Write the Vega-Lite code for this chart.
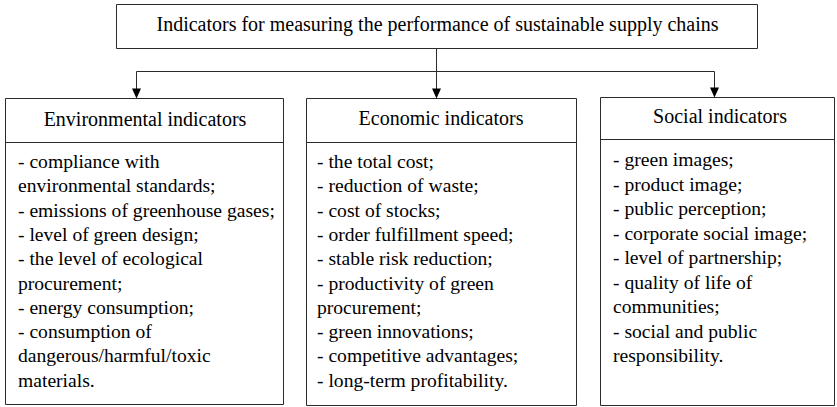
{
  "$schema": "https://vega.github.io/schema/vega-lite/v6.json",
  "width": 837,
  "height": 407,
  "padding": 0,
  "autosize": {"type": "fit", "contains": "padding"},
  "background": "white",
  "config": {"view": {"stroke": null}},
  "datasets": {
    "boxes": [
      {"box": "title", "left": 116.5, "right": 757.5, "top": 4.5, "bottom": 48.5},
      {"box": "environmental", "left": 5.5, "right": 283.5, "top": 98.5, "bottom": 404.5},
      {"box": "economic", "left": 306.5, "right": 576.5, "top": 98.5, "bottom": 405.5},
      {"box": "social", "left": 600.5, "right": 834.5, "top": 97.5, "bottom": 405.5}
    ],
    "lines": [
      {"part": "stem", "xa": 436.5, "ya": 48.5, "xb": 436.5, "yb": 71.5},
      {"part": "bar", "xa": 136.5, "ya": 71.5, "xb": 714.5, "yb": 71.5},
      {"part": "drop env", "xa": 136.5, "ya": 71.5, "xb": 136.5, "yb": 90},
      {"part": "drop eco", "xa": 436.5, "ya": 71.5, "xb": 436.5, "yb": 90},
      {"part": "drop soc", "xa": 714.5, "ya": 71.5, "xb": 714.5, "yb": 89},
      {"part": "sep env", "xa": 5.5, "ya": 142.5, "xb": 283.5, "yb": 142.5},
      {"part": "sep eco", "xa": 306.5, "ya": 142.5, "xb": 576.5, "yb": 142.5},
      {"part": "sep soc", "xa": 600.5, "ya": 139.5, "xb": 834.5, "yb": 139.5}
    ],
    "arrows": [
      {"target": "environmental", "xa": 136.5, "ya": 93.5},
      {"target": "economic", "xa": 436.5, "ya": 93.5},
      {"target": "social", "xa": 714.5, "ya": 92.5}
    ],
    "labels": [
      {"role": "title", "xa": 437.5, "ya": 31, "label": "Indicators for measuring the performance of sustainable supply chains"},
      {"role": "header", "xa": 145, "ya": 125.5, "label": "Environmental indicators"},
      {"role": "header", "xa": 441, "ya": 124.5, "label": "Economic indicators"},
      {"role": "header", "xa": 720, "ya": 123, "label": "Social indicators"},
      {"role": "item", "xa": 18, "ya": 168, "label": "- compliance with"},
      {"role": "item", "xa": 18, "ya": 192.3, "label": "environmental standards;"},
      {"role": "item", "xa": 18, "ya": 216.6, "label": "- emissions of greenhouse gases;"},
      {"role": "item", "xa": 18, "ya": 240.9, "label": "- level of green design;"},
      {"role": "item", "xa": 18, "ya": 265.2, "label": "- the level of ecological"},
      {"role": "item", "xa": 18, "ya": 289.5, "label": "procurement;"},
      {"role": "item", "xa": 18, "ya": 313.8, "label": "- energy consumption;"},
      {"role": "item", "xa": 18, "ya": 338.1, "label": "- consumption of"},
      {"role": "item", "xa": 18, "ya": 362.4, "label": "dangerous/harmful/toxic"},
      {"role": "item", "xa": 18, "ya": 386.7, "label": "materials."},
      {"role": "item", "xa": 317, "ya": 168, "label": "- the total cost;"},
      {"role": "item", "xa": 317, "ya": 192.3, "label": "- reduction of waste;"},
      {"role": "item", "xa": 317, "ya": 216.6, "label": "- cost of stocks;"},
      {"role": "item", "xa": 317, "ya": 240.9, "label": "- order fulfillment speed;"},
      {"role": "item", "xa": 317, "ya": 265.2, "label": "- stable risk reduction;"},
      {"role": "item", "xa": 317, "ya": 289.5, "label": "- productivity of green"},
      {"role": "item", "xa": 317, "ya": 313.8, "label": "procurement;"},
      {"role": "item", "xa": 317, "ya": 338.1, "label": "- green innovations;"},
      {"role": "item", "xa": 317, "ya": 362.4, "label": "- competitive advantages;"},
      {"role": "item", "xa": 317, "ya": 386.7, "label": "- long-term profitability."},
      {"role": "item", "xa": 613, "ya": 166, "label": "- green images;"},
      {"role": "item", "xa": 613, "ya": 190.5, "label": "- product image;"},
      {"role": "item", "xa": 613, "ya": 215, "label": "- public perception;"},
      {"role": "item", "xa": 613, "ya": 239.5, "label": "- corporate social image;"},
      {"role": "item", "xa": 613, "ya": 264, "label": "- level of partnership;"},
      {"role": "item", "xa": 613, "ya": 288.5, "label": "- quality of life of"},
      {"role": "item", "xa": 613, "ya": 313, "label": "communities;"},
      {"role": "item", "xa": 613, "ya": 337.5, "label": "- social and public"},
      {"role": "item", "xa": 613, "ya": 362, "label": "responsibility."}
    ]
  },
  "layer": [
    {
      "data": {"name": "boxes"},
      "mark": {"type": "rect", "fill": "white", "stroke": "#2b2b2b", "strokeWidth": 1},
      "encoding": {
        "x": {"field": "left", "type": "quantitative", "scale": {"domain": [0, 837], "nice": false, "zero": false}, "axis": null},
        "x2": {"field": "right"},
        "y": {"field": "top", "type": "quantitative", "scale": {"domain": [0, 407], "nice": false, "zero": false, "reverse": true}, "axis": null},
        "y2": {"field": "bottom"}
      }
    },
    {
      "data": {"name": "lines"},
      "mark": {"type": "rule", "stroke": "#2b2b2b", "strokeWidth": 1},
      "encoding": {
        "x": {"field": "xa", "type": "quantitative", "scale": {"domain": [0, 837], "nice": false, "zero": false}, "axis": null},
        "x2": {"field": "xb"},
        "y": {"field": "ya", "type": "quantitative", "scale": {"domain": [0, 407], "nice": false, "zero": false, "reverse": true}, "axis": null},
        "y2": {"field": "yb"}
      }
    },
    {
      "data": {"name": "arrows"},
      "mark": {"type": "point", "shape": "M-0.9,-1L0.9,-1L0,1Z", "size": 100, "filled": true, "color": "black", "opacity": 1, "strokeWidth": 0},
      "encoding": {
        "x": {"field": "xa", "type": "quantitative", "scale": {"domain": [0, 837], "nice": false, "zero": false}, "axis": null},
        "y": {"field": "ya", "type": "quantitative", "scale": {"domain": [0, 407], "nice": false, "zero": false, "reverse": true}, "axis": null}
      }
    },
    {
      "data": {"name": "labels"},
      "transform": [{"filter": "datum.role !== 'item'"}],
      "mark": {"type": "text", "font": "Liberation Serif", "fontSize": 20, "align": "center", "baseline": "alphabetic", "color": "black"},
      "encoding": {
        "x": {"field": "xa", "type": "quantitative", "scale": {"domain": [0, 837], "nice": false, "zero": false}, "axis": null},
        "y": {"field": "ya", "type": "quantitative", "scale": {"domain": [0, 407], "nice": false, "zero": false, "reverse": true}, "axis": null},
        "text": {"field": "label"}
      }
    },
    {
      "data": {"name": "labels"},
      "transform": [{"filter": "datum.role === 'item'"}],
      "mark": {"type": "text", "font": "Liberation Serif", "fontSize": 19.6, "align": "left", "baseline": "alphabetic", "color": "black"},
      "encoding": {
        "x": {"field": "xa", "type": "quantitative", "scale": {"domain": [0, 837], "nice": false, "zero": false}, "axis": null},
        "y": {"field": "ya", "type": "quantitative", "scale": {"domain": [0, 407], "nice": false, "zero": false, "reverse": true}, "axis": null},
        "text": {"field": "label"}
      }
    }
  ]
}
